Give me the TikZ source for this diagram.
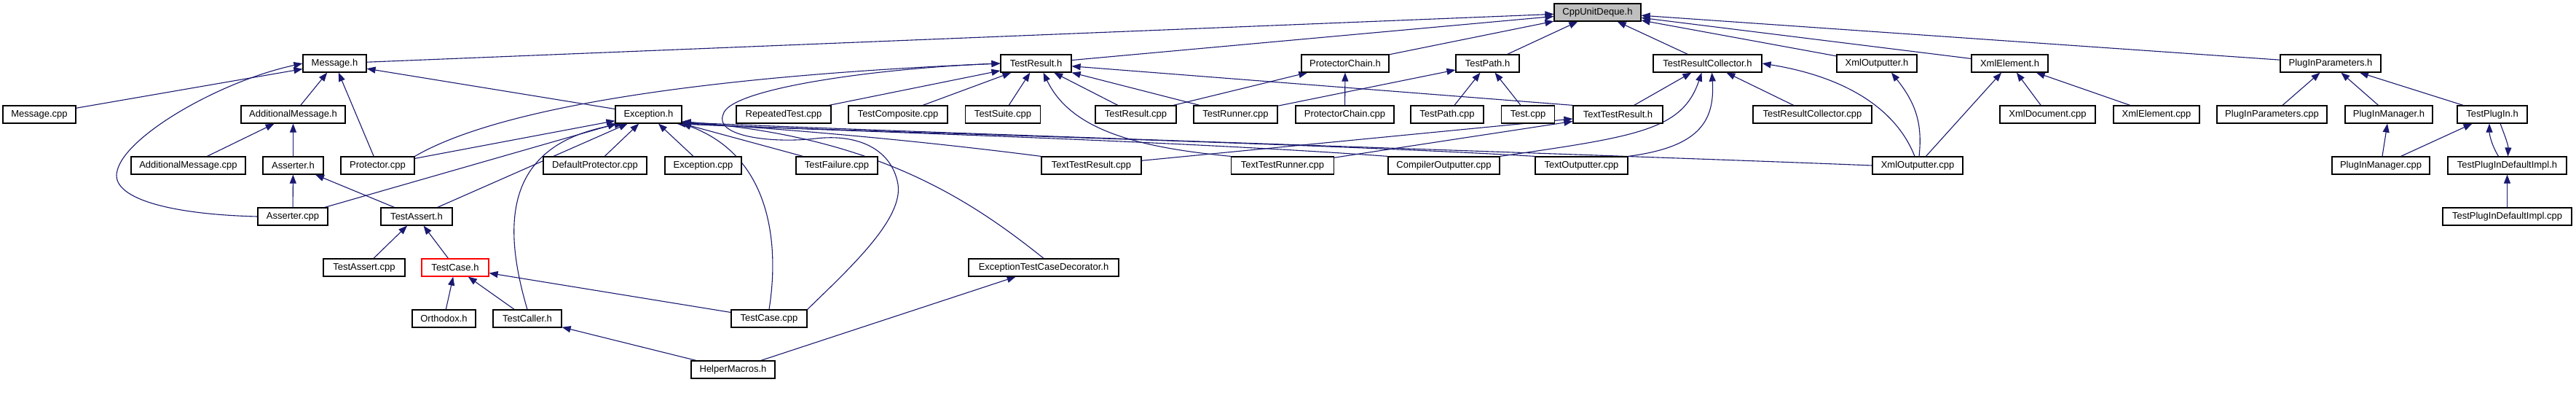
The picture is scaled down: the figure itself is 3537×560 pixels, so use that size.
\documentclass[tikz,border=0pt]{standalone}
\usepackage{fontspec}
\setmainfont{Liberation Sans}
\usepackage{tikz}
\usetikzlibrary{arrows.meta}
\definecolor{navyedge}{RGB}{25, 25, 112}
\definecolor{deqgray}{RGB}{191, 191, 191}
\definecolor{hotred}{RGB}{255, 0, 0}
\pgfdeclarelayer{back}
\pgfsetlayers{back,main}

\begin{document}
\begin{tikzpicture}[x=1pt, y=-1pt,
    file/.style={draw=black, line width=1.2pt, fill=white, minimum height=24pt,
                 inner sep=0pt, font=\fontsize{13}{15}\selectfont},
    dep/.style={navyedge, line width=1.1pt, -{Triangle[length=12pt, width=9pt]}}]
  \useasboundingbox (0, 0) rectangle (3537, 560);

  % Row 0
  \node[file, fill=deqgray, minimum width=119pt] (deque) at (2193.5, 17) {CppUnitDeque.h};

  % Rows 1 to 7
  \foreach \name/\x/\y/\w/\txt in {
      msgh/459.5/87/87/Message.h, trh/1422.5/87/97/TestResult.h,
      pch/1847/87/120/ProtectorChain.h, tph/2042.5/87/87/TestPath.h,
      trch/2344.5/87/149/TestResultCollector.h, xoh/2577/87/110/XmlOutputter.h,
      xeh/2759.5/87/105/XmlElement.h, pph/3200/87/138/PlugInParameters.h,
      msgcpp/54/157/100/Message.cpp, amh/402.5/157/143/AdditionalMessage.h,
      exh/890.5/157/91/Exception.h, rtcpp/1076/157/130/RepeatedTest.cpp,
      tcompcpp/1233/157/136/TestComposite.cpp, tscpp/1377/157/103/TestSuite.cpp,
      trcpp/1559.5/157/111/TestResult.cpp, trncpp/1696.5/157/115/TestRunner.cpp,
      pccpp/1846.5/157/135/ProtectorChain.cpp, tpcpp/1987/157/100/TestPath.cpp,
      testcpp/2098/157/73/Test.cpp, ttrh/2221.5/157/123/TextTestResult.h,
      trccpp/2488.5/157/163/TestResultCollector.cpp, xdcpp/2811.5/157/131/XmlDocument.cpp,
      xecpp/2961/157/118/XmlElement.cpp, ppcpp/3119.5/157/151/PlugInParameters.cpp,
      pmh/3280/157/120/PlugInManager.h, tpih/3422/157/96/TestPlugIn.h,
      amcpp/258.5/227/157/AdditionalMessage.cpp, assh/402.5/227/83/Asserter.h,
      protcpp/518.5/227/101/Protector.cpp, dpcpp/817/227/142/DefaultProtector.cpp,
      excpp/965.5/227/105/Exception.cpp, tfcpp/1149/227/112/TestFailure.cpp,
      ttrcpp/1498.5/227/137/TextTestResult.cpp, ttrncpp/1761/227/141/TextTestRunner.cpp,
      cocpp/1982.5/227/153/CompilerOutputter.cpp, tocpp/2171.5/227/127/TextOutputter.cpp,
      xocpp/2633/227/124/XmlOutputter.cpp, pmcpp/3269/227/134/PlugInManager.cpp,
      tpdih/3442.5/227/163/TestPlugInDefaultImpl.h,
      asscpp/402/297/96/Asserter.cpp, tah/572/297/98/TestAssert.h,
      tpdicpp/3442.5/297/177/TestPlugInDefaultImpl.cpp,
      tacpp/500/367/112/TestAssert.cpp, etcdh/1433/367/206/ExceptionTestCaseDecorator.h,
      orth/609.5/437/87/Orthodox.h, tcallh/724/437/94/TestCaller.h,
      tcasecpp/1056/437/104/TestCase.cpp, hmh/1006.5/507/115/HelperMacros.h} {
    \node[file, minimum width=\w pt] (\name) at (\x, \y) {\txt};
  }
  \node[file, draw=hotred, minimum width=92pt] (tch) at (625, 367) {TestCase.h};

  \begin{pgfonlayer}{back}
  \fill[white] (0, 0) rectangle (3537, 560);

  % straight includes
  \foreach \a/\b in {msgh/deque, trh/deque, pch/deque, tph/deque, trch/deque,
                     xoh/deque, xeh/deque, pph/deque,
                     msgcpp/msgh, amh/msgh, protcpp/msgh, exh/msgh,
                     amcpp/amh, assh/amh, asscpp/assh, tah/assh,
                     tacpp/tah, tch/tah, orth/tch, tcallh/tch, tcasecpp/tch,
                     hmh/tcallh, hmh/etcdh,
                     protcpp/exh, asscpp/exh, tah/exh, dpcpp/exh, excpp/exh, tfcpp/exh,
                     rtcpp/trh, tcompcpp/trh, tscpp/trh, trcpp/trh, trncpp/trh,
                     ttrh.north west/trh,
                     pccpp/pch, trcpp/pch, tpcpp/tph, testcpp/tph, trncpp/tph,
                     ttrh/trch, trccpp/trch, ttrcpp/ttrh, ttrncpp/ttrh,
                     xocpp/xeh, xdcpp/xeh, xecpp/xeh,
                     ppcpp/pph, pmh/pph, tpih/pph, pmcpp/pmh, pmcpp/tpih,
                     tpdicpp/tpdih} {
    \draw[dep] (\a) -- (\b);
  }

  % curved includes
  \draw[dep] (asscpp.west) .. controls (230, 294) and (150, 271) .. (161, 234)
    .. controls (172, 187) and (300, 112) .. (msgh.west);
  \draw[dep] (protcpp.north east) .. controls (680, 150) and (950, 105) .. (trh.west);
  \draw[dep] (tcallh.north) .. controls (690, 309) and (690, 197) .. (exh.200);
  \draw[dep] (tcasecpp.north) .. controls (1070, 337) and (1060, 215) .. (exh.-15);
  \draw[dep] (etcdh.north) .. controls (1330, 272) and (1200, 187) .. (exh.-12);
  \draw[dep] (ttrcpp.north west) .. controls (1200, 185) and (1000, 172) .. (exh.-14);
  \draw[dep] (cocpp.north west) .. controls (1600, 192) and (1100, 178) .. (exh.-18);
  \draw[dep] (tocpp.north west) .. controls (1800, 196) and (1150, 180) .. (exh.-16);
  \draw[dep] (xocpp.west) .. controls (2200, 212) and (1200, 180) .. (exh.-13);
  \draw[dep] (tcasecpp.north east) .. controls (1170, 365) and (1240, 300) .. (1233, 253)
    .. controls (1225, 206) and (1180, 183) .. (1120, 190)
    .. controls (1060, 197) and (980, 187) .. (993, 157)
    .. controls (1000, 122) and (1200, 94) .. (trh.west);
  \draw[dep] (ttrncpp.north west) .. controls (1560, 202) and (1470, 178) .. ([xshift=10pt]trh.south);
  \draw[dep] (cocpp.north east) .. controls (2250, 187) and (2310, 178) .. ([xshift=-8pt]trch.south);
  \draw[dep] (tocpp.north east) .. controls (2330, 202) and (2355, 169) .. ([xshift=6pt]trch.south);
  \draw[dep] ([xshift=-4pt]xocpp.north) .. controls (2600, 141) and (2520, 103) .. (trch.east);
  \draw[dep] ([xshift=2pt]xocpp.north) .. controls (2640, 169) and (2630, 141) .. ([xshift=20pt]xoh.south);
  \draw[dep] ([xshift=-12pt]tpdih.north) .. controls (3420, 197) and (3418, 183) .. ([xshift=-4pt]tpih.south);
  \draw[dep] ([xshift=11pt]tpih.south) .. controls (3440, 188) and (3444, 199) .. ([xshift=1pt]tpdih.north);
  \end{pgfonlayer}

\end{tikzpicture}
\end{document}
